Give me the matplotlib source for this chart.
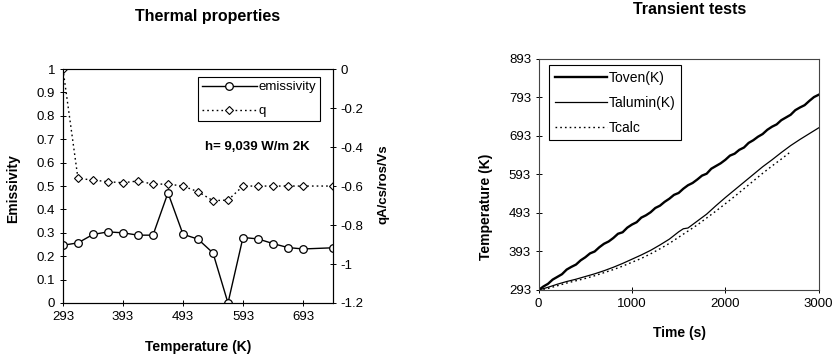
import numpy as np
import matplotlib
matplotlib.use('Agg')
import matplotlib.pyplot as plt

plt.rcParams['font.family'] = ['Liberation Sans', 'DejaVu Sans']
plt.rcParams['font.size'] = 10

# thermal properties vs temperature
temp_k = [293, 318, 343, 368, 393, 418, 443, 468, 493, 518, 543, 568,
          593, 618, 643, 668, 693, 743]
emissivity = [0.247, 0.257, 0.293, 0.304, 0.300, 0.290, 0.290, 0.471, 0.294,
              0.273, 0.214, 0.0, 0.280, 0.274, 0.254, 0.237, 0.231, 0.236]
q = [0.0, -0.561, -0.569, -0.578, -0.583, -0.574, -0.590, -0.590, -0.600,
     -0.629, -0.675, -0.672, -0.600, -0.600, -0.600, -0.600, -0.600, -0.600]

# transient test temperatures
t_oven = list(range(0, 3001, 50))
T_oven = [293, 302, 309, 320, 327, 334, 346, 353, 359, 370, 378, 388, 393,
          404, 413, 419, 428, 439, 443, 455, 463, 469, 481, 487, 495, 506,
          512, 522, 530, 540, 545, 556, 565, 571, 580, 590, 595, 608, 615,
          622, 631, 642, 647, 657, 663, 675, 682, 691, 698, 709, 717, 723,
          734, 741, 748, 760, 767, 773, 784, 794, 800]
t_alu = [0, 100, 200, 300, 400, 500, 600, 700, 800, 900, 1000, 1100, 1200,
         1300, 1400, 1500, 1550, 1600, 1700, 1800, 1900, 2000, 2100, 2200,
         2300, 2400, 2500, 2600, 2700, 2800, 2900, 3000]
T_alu = [293, 300, 308, 315, 321, 328, 335, 343, 352, 362, 373, 384, 396,
         410, 425, 444, 452, 454, 472, 490, 512, 533, 553, 573, 593, 613,
         631, 650, 668, 684, 699, 714]
t_calc = [0, 100, 200, 300, 400, 500, 600, 700, 800, 900, 1000, 1100, 1200,
          1300, 1400, 1500, 1600, 1700, 1800, 1900, 2000, 2100, 2200, 2300,
          2400, 2500, 2600, 2700]
T_calc = [293, 297, 304, 311, 317, 323, 330, 338, 346, 355, 365, 375, 387,
          400, 414, 430, 446, 462, 480, 498, 517, 536, 556, 576, 596, 615,
          633, 652]

fig = plt.figure(figsize=(8.35, 3.56), dpi=100)


def short_num(v, pos):
    v = round(v, 1)
    return '0' if v == 0 else '%g' % v


# left: emissivity and q
ax1 = fig.add_axes([0.0754, 0.1489, 0.3234, 0.657])
ax2 = ax1.twinx()
l1, = ax1.plot(temp_k, emissivity, color='black', lw=1.0, marker='o',
               ms=5.5, mfc='white', mec='black', mew=0.9)
l2, = ax2.plot(temp_k, q, color='black', lw=1.0, ls=(0, (1.2, 2.2)),
               marker='D', ms=3.8, mfc='white', mec='black', mew=0.8)
ax1.set_xlim(293, 743)
ax1.set_ylim(0, 1)
ax2.set_ylim(-1.2, 0)
ax1.set_xticks([293, 393, 493, 593, 693])
ax1.set_yticks(np.arange(0, 1.01, 0.1))
ax2.set_yticks(np.arange(-1.2, 0.01, 0.2))
ax1.yaxis.set_major_formatter(plt.FuncFormatter(short_num))
ax2.yaxis.set_major_formatter(plt.FuncFormatter(short_num))
for a in (ax1, ax2):
    a.tick_params(direction='inout', length=5, width=0.7, labelsize=9.5, pad=3)
    for s in a.spines.values():
        s.set_linewidth(0.8)
ax1.spines['top'].set_color('#666666')
ax1.set_xlabel('Temperature (K)', fontweight='bold', fontsize=10)
ax1.xaxis.set_label_coords(0.5, -0.16)
ax1.set_ylabel('Emissivity', fontweight='bold', fontsize=10)
ax1.yaxis.set_label_coords(-0.159, 0.49)
ax2.set_ylabel('qA/cs/ros/Vs', fontweight='bold', fontsize=9.5)
ax2.yaxis.set_label_coords(1.163, 0.51)
leg1 = ax1.legend([l1, l2], ['emissivity', 'q'], loc='upper right',
                  bbox_to_anchor=(0.952, 0.966), fontsize=9.5, handlelength=4.2,
                  labelspacing=0.9, fancybox=False, framealpha=1,
                  borderaxespad=0, handletextpad=0.1, borderpad=0.3)
leg1.get_frame().set_edgecolor('black')
leg1.get_frame().set_linewidth(0.8)
ax1.text(0.719, 0.667, 'h= 9,039 W/m 2K', transform=ax1.transAxes,
         ha='center', va='center', fontweight='bold', fontsize=9.5)
fig.text(208 / 835, 1 - 17 / 356, 'Thermal properties', ha='center',
         va='center', fontweight='bold', fontsize=11.5)

# right: oven and sample temperatures
ax3 = fig.add_axes([0.6451, 0.1854, 0.3353, 0.649])
ax3.plot(t_oven, T_oven, color='black', lw=1.7, label='Toven(K)')
ax3.plot(t_alu, T_alu, color='black', lw=0.9, label='Talumin(K)')
ax3.plot(t_calc, T_calc, color='black', lw=1.0, ls=(0, (1.2, 2.2)), label='Tcalc')
ax3.set_xlim(0, 3000)
ax3.set_ylim(293, 893)
ax3.set_xticks([0, 1000, 2000, 3000])
ax3.set_yticks(range(293, 894, 100))
ax3.tick_params(direction='inout', length=5, width=0.7, labelsize=9.5, pad=3)
for s in ax3.spines.values():
    s.set_linewidth(0.8)
    s.set_color('#444444')
ax3.set_xlabel('Time (s)', fontweight='bold', fontsize=10)
ax3.xaxis.set_label_coords(0.503, -0.157)
ax3.set_ylabel('Temperature (K)', fontweight='bold', fontsize=10)
ax3.yaxis.set_label_coords(-0.163, 0.36)
leg3 = ax3.legend(loc='upper left', bbox_to_anchor=(0.037, 0.974),
                  fontsize=10, handlelength=3.8, labelspacing=0.8,
                  fancybox=False, framealpha=1, borderaxespad=0,
                  handletextpad=0.1, borderpad=0.4)
leg3.get_frame().set_edgecolor('black')
leg3.get_frame().set_linewidth(0.8)
fig.text(690 / 835, 1 - 10 / 356, 'Transient tests', ha='center',
         va='center', fontweight='bold', fontsize=11.5)

fig.savefig('out.png', dpi=100)
